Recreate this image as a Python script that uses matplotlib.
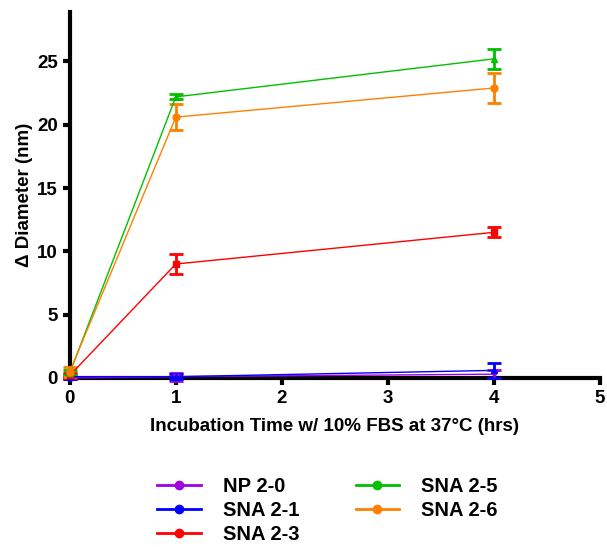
import matplotlib.pyplot as plt
import numpy as np

plt.rcParams['font.family'] = ['Liberation Sans', 'DejaVu Sans']
plt.rcParams['font.weight'] = 'bold'

# data
time = [0, 1, 4]
names = ['NP 2-0', 'SNA 2-1', 'SNA 2-3', 'SNA 2-5', 'SNA 2-6']
colors = ['#A000E0', '#0000FF', '#FF0000', '#00C000', '#FF8000']
markers = ['v', '^', 's', '^', 'o']
means = [
    [0.0, 0.1, 0.3],
    [0.1, 0.1, 0.6],
    [0.2, 9.0, 11.5],
    [0.4, 22.2, 25.2],
    [0.5, 20.6, 22.9],
]
errs = [
    [0.1, 0.3, 0.3],
    [0.2, 0.2, 0.6],
    [0.2, 0.8, 0.4],
    [0.2, 0.2, 0.8],
    [0.4, 1.0, 1.2],
]

fig = plt.figure(figsize=(6.07, 5.47), dpi=100)
ax = fig.add_axes([0.115, 0.309, 0.873, 0.669])

for n, c, m, y, e in zip(names, colors, markers, means, errs):
    ax.errorbar(time, y, yerr=e, color=c, marker=m, markersize=5, linewidth=1,
                elinewidth=2, capsize=5, capthick=2, clip_on=False, zorder=3)
    ax.plot([], [], color=c, marker='o', markersize=6, linewidth=2, label=n)

ax.set_xlim(0, 5)
ax.set_ylim(0, 28.9)
ax.set_xticks([0, 1, 2, 3, 4, 5])
ax.set_yticks([0, 5, 10, 15, 20, 25])
ax.spines['top'].set_visible(False)
ax.spines['right'].set_visible(False)
ax.spines['left'].set_linewidth(3)
ax.spines['bottom'].set_linewidth(3)
ax.tick_params(width=3, length=5, labelsize=13.5)
for lab in ax.get_xticklabels() + ax.get_yticklabels():
    lab.set_fontweight('bold')

ax.set_xlabel('Incubation Time w/ 10% FBS at 37°C (hrs)', fontsize=13.5, fontweight='bold', labelpad=8)
ax.set_ylabel('Δ Diameter (nm)', fontsize=13.5, fontweight='bold', labelpad=3)

handles, labels = ax.get_legend_handles_labels()
fig.legend(handles, labels, loc='upper left', bbox_to_anchor=(0.246, 0.142), ncol=2,
           frameon=False, columnspacing=2.8, handlelength=2.15,
           handletextpad=1.1, labelspacing=0.25, borderaxespad=0,
           prop={'weight': 'bold', 'size': 14.5})

plt.savefig('out.png', dpi=100)
